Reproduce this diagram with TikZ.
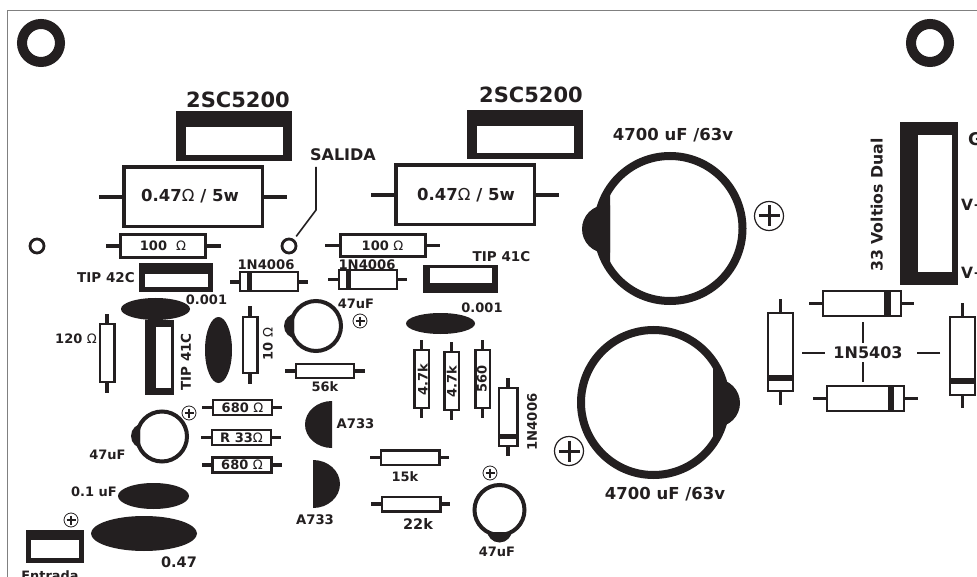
\documentclass[tikz,border=0pt]{standalone}
\usepackage{fontspec}
\setmainfont{DejaVu Sans}
\definecolor{ink}{HTML}{231F20}
\definecolor{framegray}{HTML}{808080}
\newcommand\OM{{\mdseries Ω}}
\tikzset{
  comp/.style={draw=ink,fill=white,text=ink,inner sep=0pt,outer sep=0pt,text height=9.3pt,text depth=0pt,font=\fontsize{13}{13}\selectfont\bfseries},
  leadline/.style={draw=ink,line width=3.5pt},
  hole/.style={circle,draw=ink,fill=white,inner sep=0pt,outer sep=0pt},
  plusring/.style={circle,draw=ink,fill=white,inner sep=0pt,outer sep=0pt},
  thinline/.style={draw=ink,line width=1.2pt}
}
% [extra]{name}{x}{y}{size}{text}
\newcommand\lbl[6][]{\pgfmathsetmacro\lh{0.729*#5}\node[text=ink,inner sep=0pt,outer sep=0pt,text height=\lh pt,text depth=0pt,font=\fontsize{#5}{#5}\selectfont\bfseries,#1] (#2) at (#3,#4) {#6};}
% horizontal component: name,cx,cy,w,h,lw,leadL,leadR,text
\newcommand\hcomp[9]{\node[comp,minimum width=#4pt,minimum height=#5pt,line width=#6pt] (#1) at (#2,#3) {#9};
  \draw[leadline] (#1.west) -- ++(-#7,0); \draw[leadline] (#1.east) -- ++(#8,0);}
% vertical component: name,cx,cy,w,h,lw,leadUp,leadDown
\newcommand\vcomp[8]{\node[comp,minimum width=#4pt,minimum height=#5pt,line width=#6pt] (#1) at (#2,#3) {};
  \draw[leadline] (#1.north) -- ++(0,-#7); \draw[leadline] (#1.south) -- ++(0,#8);}
% block: x1,y1,x2,y2,ix1,iy1,ix2,iy2
\newcommand\block[8]{\fill[ink] (#1,#2) rectangle (#3,#4); \fill[white] (#5,#6) rectangle (#7,#8);}
% plus sign: name,x,y,r,ringlw,arm,armlw
\newcommand\plusm[7]{\node[plusring,minimum size=#4*2pt,line width=#5pt] (#1) at (#2,#3) {};
  \draw[ink,line width=#7pt] (#1.center)+(-#6,0) -- +(#6,0); \draw[ink,line width=#7pt] (#1.center)+(0,-#6) -- +(0,#6);}
% capacitor: name,cx,cy,r,lw,lobex,lobey,lober,{clip rectangle}
\newcommand\capa[9]{\begin{scope}\clip #9; \fill[ink] (#2,#3) circle (#4); \fill[ink] (#6,#7) circle (#8);\end{scope}
  \node[circle,draw=ink,line width=#5pt,inner sep=0pt,outer sep=0pt,minimum size=#4*2pt] (#1) at (#2,#3) {};}
\begin{document}
\begin{tikzpicture}[x=1pt,y=-1pt]
\useasboundingbox (0,0) rectangle (977,577);
\fill[white] (0,0) rectangle (977,577);
\clip (0,0) rectangle (977,577);
% frame
\draw[framegray,line width=1.6pt] (7.5,577) -- (7.5,10.5) -- (977,10.5);
% mounting holes
\node[hole,minimum size=38pt,line width=10pt] (holeA) at (41,43) {};
\node[hole,minimum size=38pt,line width=10pt] (holeB) at (930,43) {};
% power transistors
\block{176}{111}{292}{161}{186}{127}{283}{155}
\lbl{tA}{238}{99.5}{21}{2SC5200}
\block{467}{110}{583}{159}{477}{126}{574}{153}
\lbl{tB}{531}{95}{21}{2SC5200}
% power resistors
\hcomp{rA}{193}{197}{138.5}{59.5}{3.5}{25}{25}{}
\lbl{rAt}{190}{195}{16.5}{0.47\OM\ / 5w}
\hcomp{rB}{465}{195}{138.5}{59.5}{3.5}{25}{25}{}
\lbl{rBt}{466}{194}{16.5}{0.47\OM\ / 5w}
% salida
\lbl{sal}{343}{155}{16}{SALIDA}
\node[hole,minimum size=14pt,line width=2.8pt] (outA) at (289,246) {};
\node[hole,minimum size=14pt,line width=2.8pt] (inA) at (37,246) {};
\coordinate (salTop) at (316,167);
\coordinate (salBend) at (316,210);
\draw[ink,line width=1.6pt,shorten >=5pt] (salTop) -- (salBend) -- (outA);
% 100 ohm
\hcomp{rC}{163}{246}{85}{22.5}{3}{15}{15}{100\ \ \OM}
\hcomp{rD}{382.5}{245.5}{85}{22.5}{3}{15}{15}{100 \OM}
% TIP 42C
\block{139}{263}{213}{292}{145}{274}{208}{287}
\lbl{t42}{106}{278}{13.5}{TIP 42C}
% 1N4006
\lbl{d1t}{266}{265}{13.2}{1N4006}
\hcomp{d1}{269}{282}{58.5}{19}{2}{10}{10}{}
\fill[ink] (247,273) rectangle (252,291);
\lbl{d2t}{367}{265}{13.2}{1N4006}
\hcomp{d2}{368}{279.5}{58.5}{19}{2}{11}{10}{}
\fill[ink] (346,270) rectangle (351,289);
% left group
\lbl{c1t}{206.5}{299.5}{13}{0.001}
\fill[ink] (155.5,309) ellipse (34.5 and 11);
\block{145}{320}{174}{395}{156}{327}{171}{388}
\lbl[rotate=90]{t41a}{186}{362}{13.5}{TIP 41C}
\vcomp{r120}{107}{353}{14.5}{58}{2.5}{10}{11}
\lbl{r120t}{76}{339}{13}{120 \OM}
\fill[ink] (218.5,350) ellipse (13.5 and 33);
\vcomp{r10}{250}{345}{14.5}{56}{2.5}{11}{11}
\lbl[rotate=90]{r10t}{268}{344}{13}{10 \OM}
% 47uF top
\capa{c47a}{316}{326}{25}{4}{296.5}{326}{12.5}{(270,300) rectangle (294,352)}
\lbl{c47at}{356}{304}{13}{47uF}
\plusm{pA}{360}{321}{7}{0.8}{4.5}{1.5}
\hcomp{r56}{325}{371}{58}{14}{2.2}{11}{11}{}
\lbl{r56t}{325}{387}{13}{56k}
% 680 etc
\hcomp{r680a}{242.5}{407.5}{59}{15}{2.8}{11}{10}{680 \OM}
\hcomp{r33}{241.5}{437.5}{59}{15}{2.8}{11}{10}{R 33\OM}
\hcomp{r680b}{242}{465}{59}{15}{2.8}{11}{10}{680 \OM}
% 47uF left
\capa{c47b}{162}{436.5}{25}{4}{143.5}{436}{12.5}{(120,410) rectangle (140,463)}
\lbl{c47bt}{107.5}{455}{13}{47uF}
\plusm{pB}{189}{413}{7}{0.8}{4.5}{1.5}
% A733
\begin{scope}\clip (290,395) rectangle (332,455); \fill[ink] (332,424.5) ellipse (27 and 23.5);\end{scope}
\lbl{qA}{355.5}{424}{13.2}{A733}
\begin{scope}\clip (313,455) rectangle (350,515); \fill[ink] (313,484) ellipse (27 and 24);\end{scope}
\lbl{qB}{315}{520}{13.2}{A733}
% input
\fill[ink] (153.5,496) ellipse (35.5 and 13);
\lbl{c01t}{94}{492}{13}{0.1 uF}
\fill[ink] (144,533.5) ellipse (53 and 17.5);
\lbl{c047t}{179}{562}{14.5}{0.47}
\plusm{pC}{71}{520}{7}{0.8}{4.5}{1.5}
\block{26}{530}{84}{563}{31}{540}{79}{558}
\lbl{ent}{50}{576}{12.9}{Entrada}
% TIP 41C right
\block{423}{265}{498}{293}{430}{268}{492}{283}
\lbl{t41b}{501.5}{256.5}{13.5}{TIP 41C}
\lbl{c2t}{482}{308}{13}{0.001}
\fill[ink] (440.5,323.5) ellipse (34.5 and 10.5);
% vertical resistors
\vcomp{r47a}{421.5}{379}{14.5}{58}{2.5}{10}{10}
\lbl[rotate=90]{r47at}{423}{380}{13}{4.7k}
\vcomp{r47b}{451.5}{381}{14.5}{58}{2.5}{10}{10}
\lbl[rotate=90]{r47bt}{452}{382}{13}{4.7k}
\vcomp{r560}{482.5}{379}{14.5}{58}{2.5}{10}{10}
\lbl[rotate=90]{r560t}{482}{379}{13}{560}
\vcomp{d3}{508}{417}{18.5}{58}{2.5}{10}{10}
\fill[ink] (499,434) rectangle (518,439);
\lbl[rotate=90]{d3t}{532}{422}{13.2}{1N4006}
% 15k 22k
\hcomp{r15}{410}{457.5}{58.5}{14.5}{2.5}{11}{10}{}
\lbl{r15t}{405}{477}{13}{15k}
\hcomp{r22}{411}{504}{58.5}{14.5}{2.5}{11}{10}{}
\lbl{r22t}{418}{524}{14.5}{22k}
% 47uF bottom
\capa{c47c}{499.5}{510}{25}{4}{499.5}{530}{12.5}{(470,532) rectangle (530,545)}
\lbl{c47ct}{497}{552}{13}{47uF}
\plusm{pD}{490}{473}{7}{0.8}{4.5}{1.5}
% big capacitors
\lbl{cAt}{673}{134}{16.5}{4700 uF /63v}
\capa{cA}{670}{228.5}{72.5}{8}{606}{229}{24}{(575,150) rectangle (610,310)}
\plusm{pE}{769}{216}{14.5}{1.2}{10.5}{3}
\capa{cB}{653.5}{402.5}{72.5}{8}{716}{403}{24}{(713,325) rectangle (745,480)}
\plusm{pF}{569}{451}{14.5}{1.2}{10.5}{3}
\lbl{cBt}{665}{493}{16.5}{4700 uF /63v}
% supply connector
\block{900}{122}{958}{285}{918}{135}{952}{272}
\lbl[rotate=90]{vt}{877}{205}{15.7}{33 Voltios Dual}
\lbl[anchor=west]{gt}{968}{139.5}{17.5}{G}
\lbl[anchor=west]{vp}{961}{205}{15.5}{V+}
\lbl[anchor=west]{vn}{961}{273}{15.5}{V+}
% rectifier
\hcomp{dA}{862}{303.5}{78}{25}{2.5}{14}{13}{}
\fill[ink] (884,292) rectangle (891,315);
\hcomp{dB}{865.5}{398.5}{77}{25}{2.5}{14}{14}{}
\fill[ink] (888,387) rectangle (894,410);
\vcomp{dC}{780.5}{352}{25}{78}{2.5}{14}{14}
\fill[ink] (769,375) rectangle (792,381);
\vcomp{dD}{962.5}{356}{25}{78}{2.5}{14}{13}
\fill[ink] (951,378) rectangle (974,384);
\lbl{brt}{868}{353}{16}{1N5403}
\coordinate (lnT) at (863,322); \coordinate (lnTb) at (863,343);
\coordinate (lnB) at (863,382); \coordinate (lnBt) at (863,362);
\coordinate (lnL) at (802,353); \coordinate (lnLe) at (825,353);
\coordinate (lnR) at (940,353); \coordinate (lnRe) at (917,353);
\draw[thinline] (lnT) -- (lnTb);
\draw[thinline] (lnB) -- (lnBt);
\draw[thinline] (lnL) -- (lnLe);
\draw[thinline] (lnR) -- (lnRe);
\end{tikzpicture}
\end{document}
